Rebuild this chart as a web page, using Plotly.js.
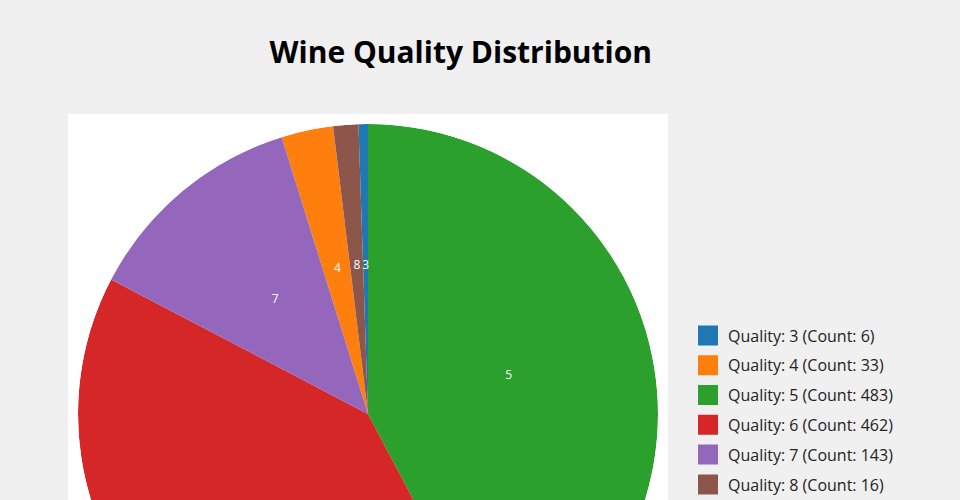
<!DOCTYPE html>
<html>
<head>
<meta charset="utf-8">
<script src="https://cdn.plot.ly/plotly-3.0.1.min.js"></script>
<style>html,body{margin:0;padding:0;overflow:hidden;background:#f0f0f0;}</style>
</head>
<body>
<div id="chart" style="width:960px;height:800px;"></div>
<script>
var qualities = ['3', '4', '5', '6', '7', '8'];
var counts = [6, 33, 483, 462, 143, 16];
var sliceColors = ['#1f77b4', '#ff7f0e', '#2ca02c', '#d62728', '#9467bd', '#8c564b'];
var legendLabels = qualities.map(function (q, i) { return 'Quality: ' + q + ' (Count: ' + counts[i] + ')'; });

// pie geometry: slices sorted by count (largest first), clockwise from 12 o'clock
var total = counts.reduce(function (a, b) { return a + b; }, 0);
var order = qualities.map(function (q, i) { return i; }).sort(function (a, b) { return counts[b] - counts[a]; });
var thetaMid = [], spans = [], cum = 0;
order.forEach(function (i) {
  var w = counts[i] / total * 360;
  thetaMid[i] = cum + w / 2;
  spans[i] = w;
  cum += w;
});

var traces = qualities.map(function (q, i) {
  return {
    type: 'barpolar',
    subplot: 'polar',
    name: legendLabels[i],
    legendgroup: 'q' + q,
    r: [1],
    theta: [thetaMid[i]],
    width: [spans[i]],
    marker: {color: sliceColors[i], line: {width: 0}},
    customdata: [[counts[i], (counts[i] / total * 100).toFixed(1)]],
    hovertemplate: legendLabels[i] + '<br>%{customdata[1]}%<extra></extra>'
  };
});

traces.push({
  type: 'scatterpolar',
  subplot: 'polar2',
  mode: 'text',
  r: qualities.map(function () { return 0.5; }),
  theta: thetaMid,
  text: qualities,
  textposition: 'middle center',
  textfont: {color: '#ffffff', size: 12, family: 'Open Sans'},
  showlegend: false,
  hoverinfo: 'skip'
});

var polarBase = function (dy) {
  return {
    domain: {x: [10 / 600, 590 / 600], y: [10 / 600 + dy, 590 / 600 + dy]},
    bgcolor: 'rgba(0,0,0,0)',
    bargap: 0,
    hole: 0,
    angularaxis: {direction: 'clockwise', rotation: 90, visible: false},
    radialaxis: {range: [0, 1], visible: false}
  };
};

var layout = {
  width: 960,
  height: 800,
  title: {
    text: '<b>Wine Quality Distribution</b>',
    font: {family: 'Open Sans', size: 30, color: '#000'},
    xref: 'container', x: 0.48, xanchor: 'center',
    yref: 'container', y: 1 - 52 / 800, yanchor: 'middle'
  },
  font: {family: 'Open Sans', size: 12},
  paper_bgcolor: '#f0f0f0',
  plot_bgcolor: '#ffffff',
  margin: {l: 68, r: 292, t: 114, b: 86},
  polar: polarBase(0),
  polar2: polarBase(3 / 600),
  legend: {
    x: 1 + 20 / 600, xanchor: 'left',
    y: 0.5 + 4 / 600, yanchor: 'middle',
    traceorder: 'grouped', tracegroupgap: 6,
    font: {size: 16, color: '#222', family: 'Open Sans'},
    bgcolor: 'rgba(0,0,0,0)'
  },
  shapes: [{type: 'rect', xref: 'paper', yref: 'paper', x0: 0, x1: 1, y0: 0, y1: 1, fillcolor: '#ffffff', line: {width: 0}, layer: 'below'}]
};

var gd = document.getElementById('chart');
function bigSwatches() {
  gd.querySelectorAll('.legend .legendpoints path').forEach(function (p) {
    p.setAttribute('d', 'M10,10H-10V-10H10Z');
  });
}
Plotly.newPlot(gd, traces, layout, {displayModeBar: false}).then(function () {
  bigSwatches();
  gd.on('plotly_afterplot', bigSwatches);
});
</script>
</body>
</html>
